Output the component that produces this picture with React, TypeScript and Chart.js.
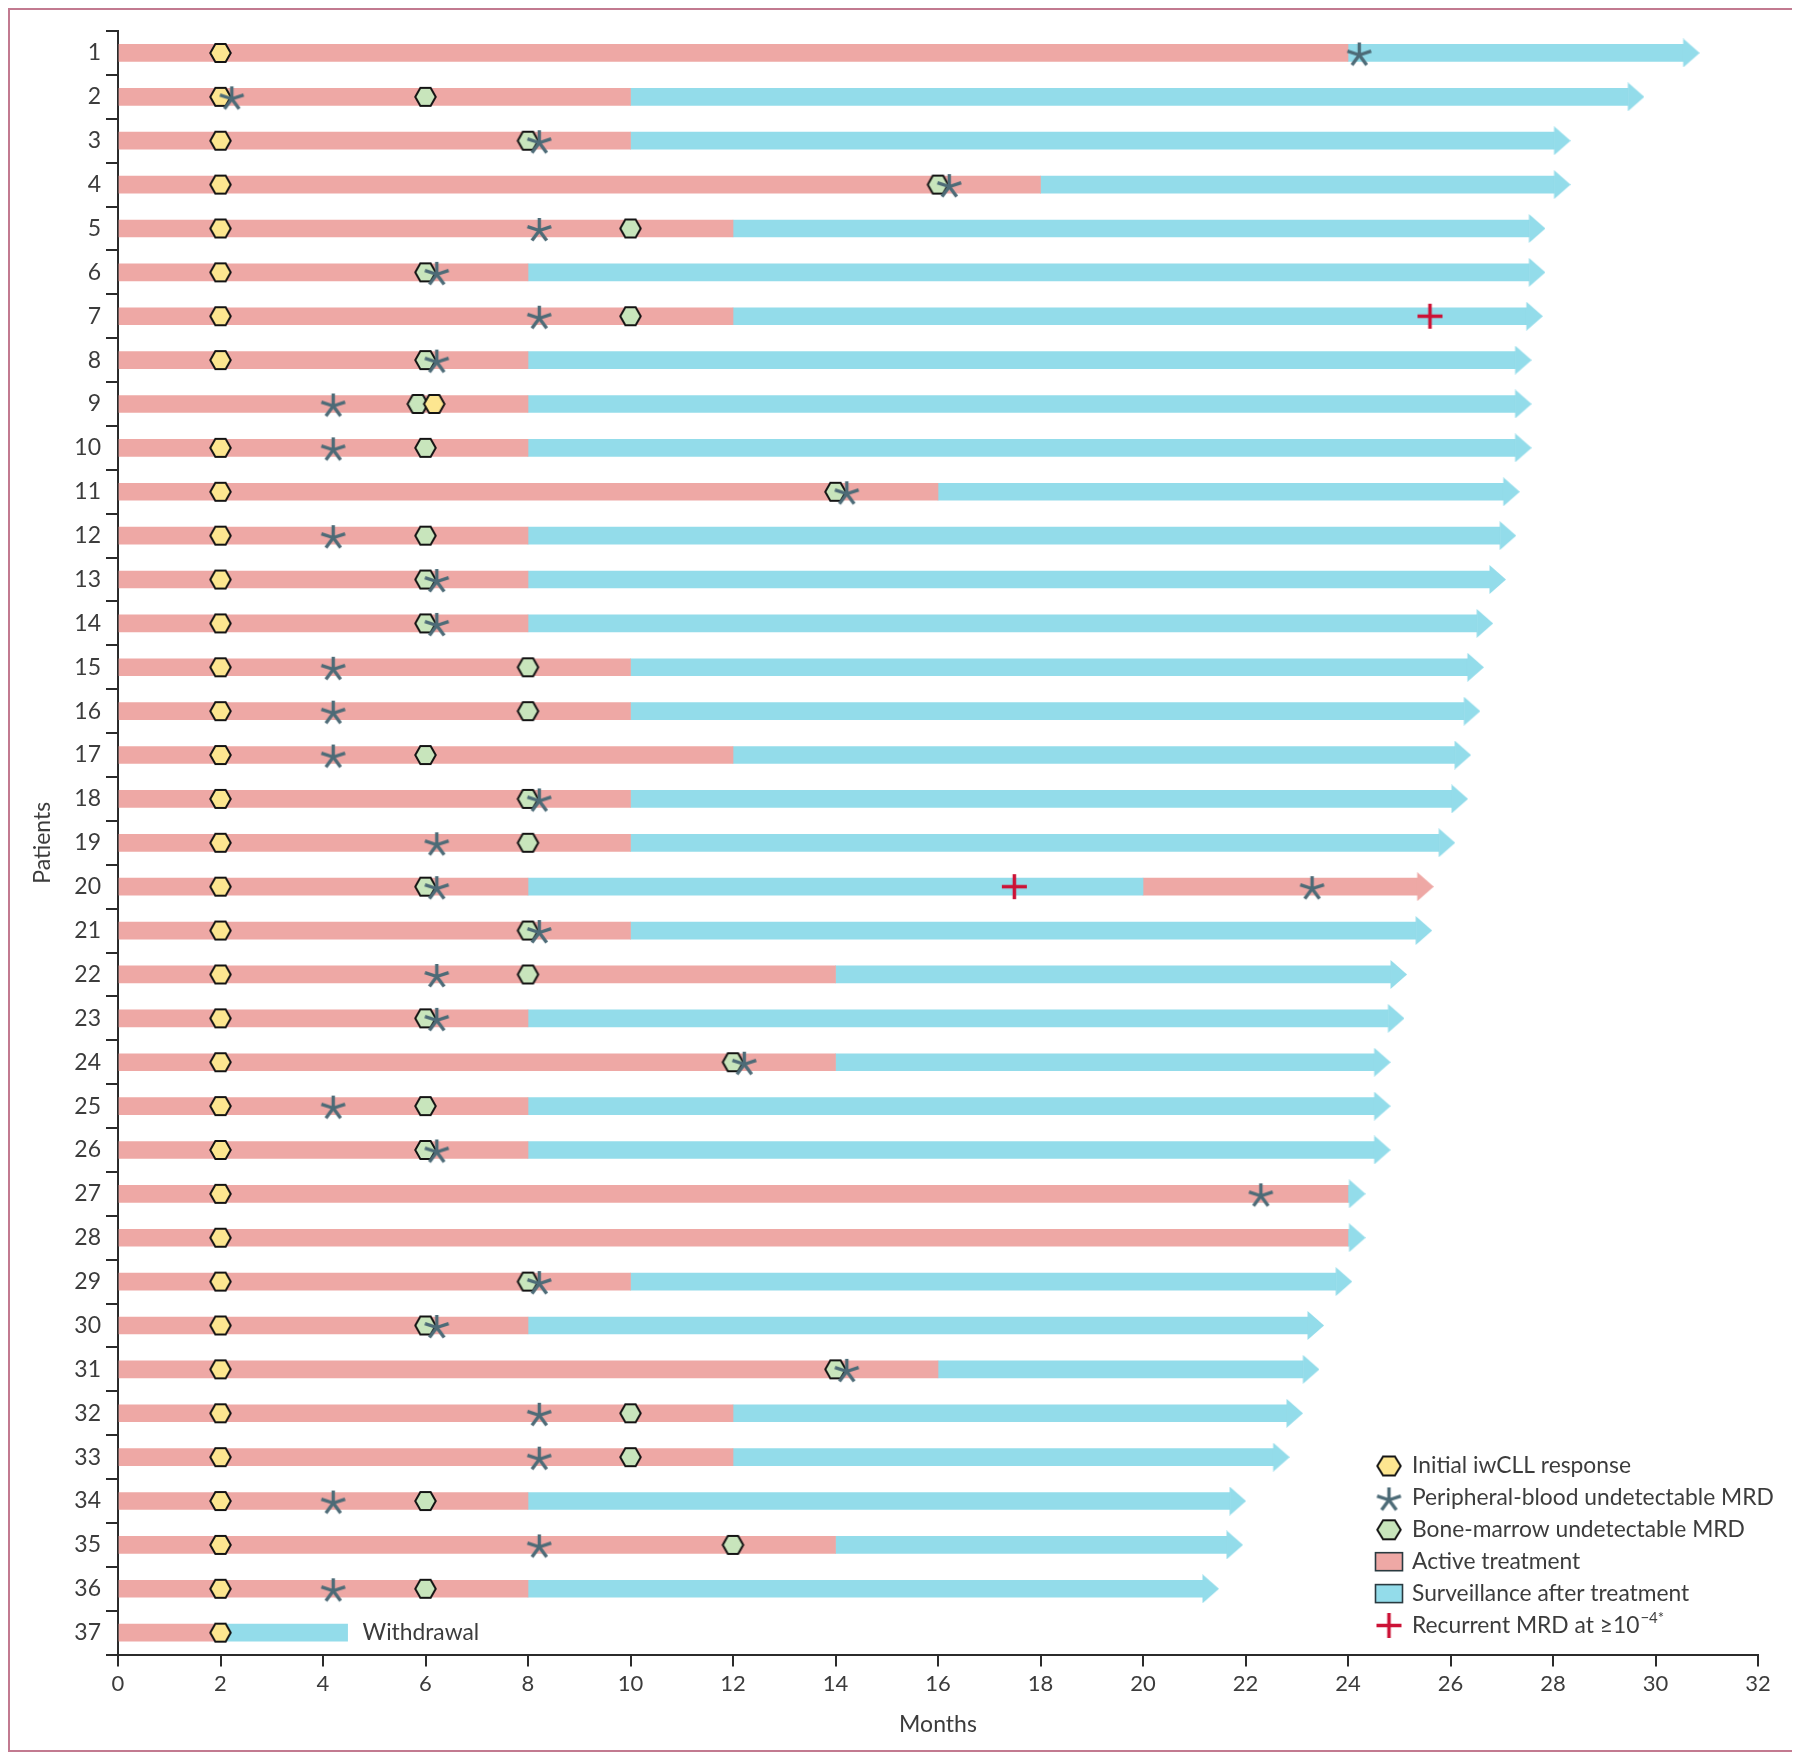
import React, { useEffect, useRef } from 'react';
import { Chart, registerables } from 'chart.js';

Chart.register(...registerables);

// ---------- data ----------
const patients = [
  '1', '2', '3', '4', '5', '6', '7', '8', '9', '10', '11', '12', '13', '14', '15', '16', '17', '18', '19',
  '20', '21', '22', '23', '24', '25', '26', '27', '28', '29', '30', '31', '32', '33', '34', '35', '36', '37',
];
// end of first active-treatment period (months)
const treatmentEnd = [24, 10, 10, 18, 12, 8, 12, 8, 8, 8, 16, 8, 8, 8, 10, 10, 12, 10, 10, 8, 10, 14, 8, 14, 8, 8, 24, 24, 10, 8, 16, 12, 12, 8, 14, 8, 2];
// end of follow-up bar (start of the arrow head), months
const followUpEnd = [
  30.55, 29.47, 28.03, 28.03, 27.54, 27.54, 27.49, 27.27, 27.27, 27.27, 27.04, 26.97, 26.77, 26.52, 26.34, 26.27,
  26.09, 26.03, 25.78, 25.36, 25.33, 24.84, 24.79, 24.52, 24.52, 24.52, 24.03, 24.03, 23.77, 23.22, 23.13, 22.81,
  22.55, 21.7, 21.64, 21.17, 4.48,
];
// patient 20 restarted treatment after surveillance
const retreatPatient = '20';
const retreatStart = 20;
// patient 37 withdrew (no ongoing arrow)
const withdrawalPatient = '37';

const initialResponse = [2, 2, 2, 2, 2, 2, 2, 2, 6.17, 2, 2, 2, 2, 2, 2, 2, 2, 2, 2, 2, 2, 2, 2, 2, 2, 2, 2, 2, 2, 2, 2, 2, 2, 2, 2, 2, 2];
const marrowMRD = [null, 6, 8, 16, 10, 6, 10, 6, 5.85, 6, 14, 6, 6, 6, 8, 8, 6, 8, 8, 6, 8, 8, 6, 12, 6, 6, null, null, 8, 6, 14, 10, 10, 6, 12, 6, null];
const bloodMRD: [string, number][] = [
  ['1', 24.22], ['2', 2.22], ['3', 8.22], ['4', 16.22], ['5', 8.22], ['6', 6.22], ['7', 8.22], ['8', 6.22],
  ['9', 4.2], ['10', 4.2], ['11', 14.22], ['12', 4.2], ['13', 6.22], ['14', 6.22], ['15', 4.2], ['16', 4.2],
  ['17', 4.2], ['18', 8.22], ['19', 6.22], ['20', 6.22], ['20', 23.3], ['21', 8.22], ['22', 6.22], ['23', 6.22],
  ['24', 12.22], ['25', 4.2], ['26', 6.22], ['27', 22.3], ['29', 8.22], ['30', 6.22], ['31', 14.22], ['32', 8.22],
  ['33', 8.22], ['34', 4.2], ['35', 8.22], ['36', 4.2],
];
const recurrentMRD: [string, number][] = [['7', 25.6], ['20', 17.49]];

const xTicksMax = 32;
const xTickStep = 2;

const legendLabels = [
  'Initial iwCLL response',
  'Peripheral-blood undetectable MRD',
  'Bone-marrow undetectable MRD',
  'Active treatment',
  'Surveillance after treatment',
  'Recurrent MRD at ≥10',
];
const legendSup = '−4*';
const withdrawalLabel = 'Withdrawal';

// ---------- styles ----------
const RED = '#eea8a5';
const BLUE = '#93dcea';
const YELLOW = '#fde690';
const GREEN = '#c8e5bc';
const AST = '#4d6b77';
const PLUS = '#cc1236';
const AXIS = '#2b2b2b';
const TEXT = '#3c3c3c';
const FONT = 'Lato';
const LEGEND_SIZE = 22.8;

function makeCanvas(w: number, h: number) {
  const c = document.createElement('canvas');
  c.width = w;
  c.height = h;
  return c;
}

function makeHex(w: number, h: number, fill: string) {
  const c = makeCanvas(Math.ceil(w + 4), Math.ceil(h + 4));
  const ctx = c.getContext('2d')!;
  const cx = c.width / 2;
  const cy = c.height / 2;
  ctx.beginPath();
  ctx.moveTo(cx - w / 2, cy);
  ctx.lineTo(cx - w / 4, cy - h / 2);
  ctx.lineTo(cx + w / 4, cy - h / 2);
  ctx.lineTo(cx + w / 2, cy);
  ctx.lineTo(cx + w / 4, cy + h / 2);
  ctx.lineTo(cx - w / 4, cy + h / 2);
  ctx.closePath();
  ctx.fillStyle = fill;
  ctx.fill();
  ctx.lineWidth = 2;
  ctx.strokeStyle = '#141414';
  ctx.lineJoin = 'miter';
  ctx.stroke();
  return c;
}

function makeAsterisk(r: number) {
  const s = Math.ceil(2 * r + 8);
  const c = makeCanvas(s, s);
  const ctx = c.getContext('2d')!;
  const cx = s / 2;
  const cy = s / 2 + 2;
  ctx.strokeStyle = AST;
  ctx.lineWidth = 3.4;
  ctx.lineCap = 'butt';
  for (let k = 0; k < 5; k++) {
    const a = (-90 + k * 72) * (Math.PI / 180);
    ctx.beginPath();
    ctx.moveTo(cx, cy);
    ctx.lineTo(cx + r * Math.cos(a), cy + r * Math.sin(a));
    ctx.stroke();
  }
  return c;
}

function makePlus(len: number) {
  const s = Math.ceil(len + 4);
  const c = makeCanvas(s, s);
  const ctx = c.getContext('2d')!;
  const cx = s / 2;
  const cy = s / 2;
  ctx.strokeStyle = PLUS;
  ctx.lineWidth = 3.5;
  ctx.beginPath();
  ctx.moveTo(cx - len / 2, cy);
  ctx.lineTo(cx + len / 2, cy);
  ctx.moveTo(cx, cy - len / 2);
  ctx.lineTo(cx, cy + len / 2);
  ctx.stroke();
  return c;
}

// arrow head whose base sits at the image centre
function makeArrow(len: number, h: number, fill: string) {
  const c = makeCanvas(2 * len, h);
  const ctx = c.getContext('2d')!;
  ctx.fillStyle = fill;
  ctx.beginPath();
  ctx.moveTo(len - 0.5, 0);
  ctx.lineTo(2 * len, h / 2);
  ctx.lineTo(len - 0.5, h);
  ctx.closePath();
  ctx.fill();
  return c;
}

export default function App() {
  const ref = useRef<HTMLCanvasElement | null>(null);

  useEffect(() => {
    if (!ref.current) return;
    const hexY = makeHex(20.5, 17.8, YELLOW);
    const hexG = makeHex(20.5, 17.8, GREEN);
    const legHexY = makeHex(23.5, 19, YELLOW);
    const legHexG = makeHex(23.5, 19, GREEN);
    const ast = makeAsterisk(12.5);
    const plus = makePlus(25);
    const arrowBlue = makeArrow(16, 29, BLUE);
    const arrowRed = makeArrow(16, 29, RED);

    const activeData = patients.map((_, i) => [0, treatmentEnd[i]]);
    const survData = patients.map((p, i) => [treatmentEnd[i], p === retreatPatient ? retreatStart : followUpEnd[i]]);
    const retreatData = patients.map((p, i) => (p === retreatPatient ? [retreatStart, followUpEnd[i]] : null));
    const blueArrows = patients
      .map((p, i) => ({ x: followUpEnd[i], y: p }))
      .filter((d) => d.y !== withdrawalPatient && d.y !== retreatPatient);
    const redArrows = patients
      .map((p, i) => ({ x: followUpEnd[i], y: p }))
      .filter((d) => d.y === retreatPatient);
    const yellowPts = patients.map((p, i) => ({ x: initialResponse[i], y: p }));
    const greenPts = patients
      .map((p, i) => ({ x: marrowMRD[i], y: p }))
      .filter((d) => d.x !== null);
    const astPts = bloodMRD.map(([p, v]) => ({ x: v, y: p }));
    const plusPts = recurrentMRD.map(([p, v]) => ({ x: v, y: p }));

    const barCommon = { grouped: false, barThickness: 17, borderWidth: 0, order: 6 };
    const ptCommon = { pointRadius: 10, pointHoverRadius: 10, showLine: false, clip: false as const };

    const legendPlugin = {
      id: 'customLegend',
      afterDraw(chart: any) {
        const ctx = chart.ctx as CanvasRenderingContext2D;
        const iconX = 1379;
        const textX = 1402;
        const y0 = 1456;
        const step = 31.9;
        ctx.save();
        ctx.textBaseline = 'middle';
        ctx.textAlign = 'left';
        legendLabels.forEach((label, i) => {
          const y = y0 + i * step;
          if (i === 0 || i === 2) {
            const img = i === 0 ? legHexY : legHexG;
            ctx.drawImage(img, iconX - img.width / 2, y - img.height / 2);
          } else if (i === 1) {
            ctx.drawImage(ast, iconX - ast.width / 2, y - ast.height / 2);
          } else if (i === 3 || i === 4) {
            ctx.fillStyle = i === 3 ? RED : BLUE;
            ctx.fillRect(iconX - 13.5, y - 9, 27, 18);
            ctx.strokeStyle = '#2a3a40';
            ctx.lineWidth = 1.6;
            ctx.strokeRect(iconX - 13.5, y - 9, 27, 18);
          } else {
            ctx.drawImage(plus, iconX - plus.width / 2, y - plus.height / 2);
          }
          ctx.fillStyle = TEXT;
          ctx.font = `${LEGEND_SIZE}px ${FONT}`;
          ctx.fillText(label, textX, y);
          if (i === 5) {
            const w = ctx.measureText(label).width;
            ctx.font = `15px ${FONT}`;
            ctx.fillText(legendSup, textX + w + 1, y - 7);
          }
        });
        ctx.restore();
      },
    };

    const withdrawalPlugin = {
      id: 'withdrawalLabel',
      afterDatasetsDraw(chart: any) {
        const ctx = chart.ctx as CanvasRenderingContext2D;
        const idx = patients.indexOf(withdrawalPatient);
        const x = chart.scales.x.getPixelForValue(followUpEnd[idx]) + 15;
        const y = chart.scales.y.getPixelForValue(idx);
        ctx.save();
        ctx.font = `${LEGEND_SIZE}px ${FONT}`;
        ctx.fillStyle = TEXT;
        ctx.textBaseline = 'middle';
        ctx.textAlign = 'left';
        ctx.fillText(withdrawalLabel, x, y);
        ctx.restore();
      },
    };

    const chart = new Chart(ref.current, {
      type: 'bar',
      data: {
        labels: patients,
        datasets: [
          { ...barCommon, label: 'Active treatment', data: activeData as any, backgroundColor: RED },
          { ...barCommon, label: 'Surveillance after treatment', data: survData as any, backgroundColor: BLUE },
          { ...barCommon, label: 'Retreatment', data: retreatData as any, backgroundColor: RED },
          { ...ptCommon, type: 'scatter', label: 'ongoing', data: blueArrows as any, pointStyle: arrowBlue, order: 5 } as any,
          { ...ptCommon, type: 'scatter', label: 'ongoing (treatment)', data: redArrows as any, pointStyle: arrowRed, order: 5 } as any,
          { ...ptCommon, type: 'scatter', label: 'Bone-marrow undetectable MRD', data: greenPts as any, pointStyle: hexG, order: 4 } as any,
          { ...ptCommon, type: 'scatter', label: 'Initial iwCLL response', data: yellowPts as any, pointStyle: hexY, order: 3 } as any,
          { ...ptCommon, type: 'scatter', label: 'Peripheral-blood undetectable MRD', data: astPts as any, pointStyle: ast, order: 2 } as any,
          { ...ptCommon, type: 'scatter', label: 'Recurrent MRD', data: plusPts as any, pointStyle: plus, order: 1 } as any,
        ],
      },
      options: {
        indexAxis: 'y',
        animation: false,
        responsive: false,
        events: [],
        layout: { padding: { left: 0, right: 34, top: 21, bottom: 0 } },
        font: { family: FONT },
        plugins: {
          legend: { display: false },
          tooltip: { enabled: false },
        },
        scales: {
          x: {
            type: 'linear',
            min: 0,
            max: xTicksMax,
            ticks: {
              stepSize: xTickStep,
              autoSkip: false,
              maxRotation: 0,
              color: TEXT,
              font: { family: FONT, size: 22 },
              padding: 4,
            },
            grid: { drawOnChartArea: false, drawTicks: true, tickLength: 12, color: AXIS, lineWidth: 2 },
            border: { display: true, color: AXIS, width: 2 },
            title: {
              display: true,
              text: 'Months',
              color: TEXT,
              font: { family: FONT, size: 23 },
              padding: { top: 0, bottom: 11.5 },
            },
            afterFit: (s: any) => {
              s.height = 95.4;
            },
          },
          y: {
            type: 'category',
            offset: true,
            ticks: { autoSkip: false, color: TEXT, font: { family: FONT, size: 23 }, padding: 5 },
            grid: { offset: true, drawOnChartArea: false, drawTicks: true, tickLength: 12, color: AXIS, lineWidth: 2 },
            border: { display: true, color: AXIS, width: 2 },
            title: {
              display: true,
              text: 'Patients',
              color: TEXT,
              font: { family: FONT, size: 23 },
              padding: { top: 19, bottom: 0 },
            },
            afterFit: (s: any) => {
              s.width = 108;
            },
          },
        },
      } as any,
      plugins: [legendPlugin, withdrawalPlugin],
    });
    return () => chart.destroy();
  }, []);

  return (
    <div
      style={{
        width: 1786,
        height: 1744,
        border: '2px solid #c27a90',
        boxSizing: 'border-box',
        background: '#ffffff',
      }}
    >
      <canvas ref={ref} width={1782} height={1740} style={{ display: 'block' }} />
    </div>
  );
}
